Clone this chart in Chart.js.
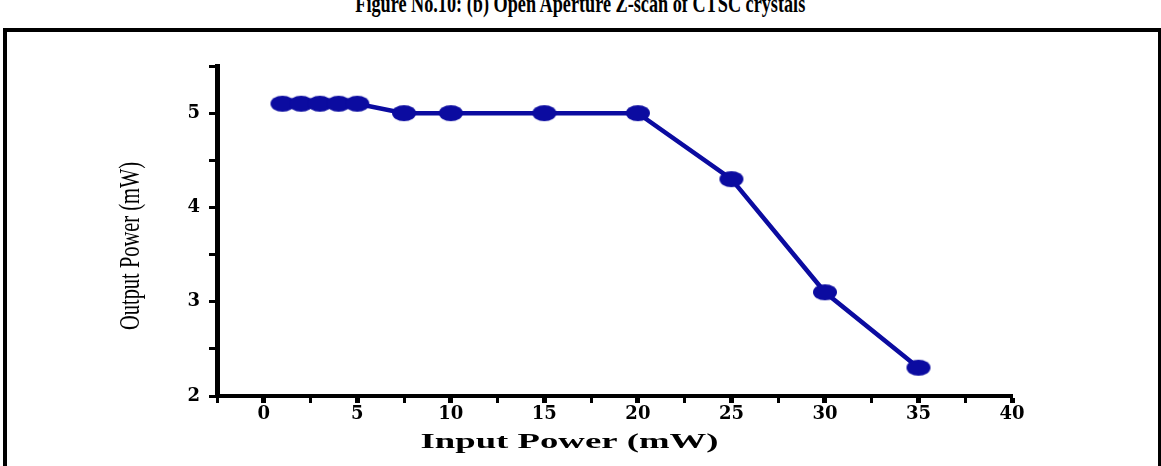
<!DOCTYPE html>
<html>
<head>
<meta charset="utf-8">
<script src="https://cdn.jsdelivr.net/npm/chart.js@4.4.1/dist/chart.umd.min.js"></script>
<style>
    html, body { margin: 0; padding: 0; background: #fff; }
    body { width: 1161px; height: 466px; position: relative; overflow: hidden; }
    #titulo {
        position: absolute; top: -11px; left: 0; width: 1161px; text-align: center;
        font: bold 26px/30px 'Liberation Serif', serif; color: #000; white-space: nowrap;
    }
    #titulo span { display: inline-block; transform-origin: center; }
    #moldura {
        position: absolute; left: 3px; top: 28px; width: 1151px; height: 500px;
        border: 4px solid #000; border-bottom: none;
    }
    #grafico { position: absolute; left: 0; top: 0; }
</style>
</head>
<body>
<div id="titulo"><span>Figure No.10: (b) Open Aperture Z-scan of CTSC crystals</span></div>
<div id="moldura"></div>
<canvas id="grafico" width="1161" height="466"></canvas>
<script>
const inputPower = [1, 2, 3, 4, 5, 7.5, 10, 15, 20, 25, 30, 35];
const outputPower = [5.1, 5.1, 5.1, 5.1, 5.1, 5.0, 5.0, 5.0, 5.0, 4.3, 3.1, 2.3];

const xLabels = [0, 5, 10, 15, 20, 25, 30, 35, 40];
const yLabels = [2, 3, 4, 5];

const tituloX = 'Input Power (mW)';
const tituloY = 'Output Power (mW)';

const azul = '#0b0ba0';

// encolhe o titulo da figura para a largura do original
const span = document.querySelector('#titulo span');
span.style.transform = `scaleX(${450 / span.getBoundingClientRect().width})`;

// marcador elíptico, como no original
const marcador = document.createElement('canvas');
marcador.width = 26;
marcador.height = 18;
const mctx = marcador.getContext('2d');
mctx.fillStyle = azul;
mctx.beginPath();
mctx.ellipse(13, 9, 12, 8, 0, 0, Math.PI * 2);
mctx.fill();

const fonteTicks = { family: "'DejaVu Serif', serif", size: 18, weight: 'bold' };

const titulosEixos = {
    id: 'titulosEixos',
    afterDraw(chart) {
        const { ctx, chartArea } = chart;
        ctx.save();
        ctx.fillStyle = '#000';
        ctx.textAlign = 'center';
        ctx.textBaseline = 'middle';

        // eixo x: texto largo, em negrito
        ctx.font = "bold 22px 'Liberation Serif', serif";
        const wx = ctx.measureText(tituloX).width;
        ctx.translate((chartArea.left + chartArea.right) / 2 - 45, chartArea.bottom + 46);
        ctx.scale(298 / wx, 1);
        ctx.fillText(tituloX, 0, 0);
        ctx.restore();

        // eixo y: texto condensado, girado
        ctx.save();
        ctx.fillStyle = '#000';
        ctx.textAlign = 'center';
        ctx.textBaseline = 'middle';
        ctx.font = "29px 'Liberation Serif', serif";
        const wy = ctx.measureText(tituloY).width;
        ctx.translate(131, (chartArea.top + chartArea.bottom) / 2 + 15);
        ctx.rotate(-Math.PI / 2);
        ctx.scale(168 / wy, 1);
        ctx.fillText(tituloY, 0, 0);
        ctx.restore();
    }
};

const ctx = document.getElementById('grafico').getContext('2d');

new Chart(ctx, {
    type: 'scatter',
    data: {
        datasets: [{
            data: inputPower.map((x, i) => ({ x, y: outputPower[i] })),
            showLine: true,
            borderColor: azul,
            backgroundColor: azul,
            borderWidth: 4.5,
            pointStyle: marcador,
            pointRadius: 9,
            tension: 0
        }]
    },
    options: {
        responsive: false,
        animation: false,
        events: [],
        layout: { padding: { top: 66, right: 149, left: 0, bottom: 0 } },
        plugins: {
            legend: { display: false },
            tooltip: { enabled: false }
        },
        scales: {
            x: {
                type: 'linear',
                min: -2.5,
                max: 40,
                afterFit: s => { s.height = 70; },
                border: { color: '#000', width: 4 },
                grid: {
                    drawOnChartArea: false,
                    tickLength: 7,
                    tickColor: '#000',
                    tickWidth: c => (c.tick && xLabels.includes(c.tick.value) ? 5 : 3)
                },
                ticks: {
                    stepSize: 2.5,
                    autoSkip: false,
                    maxRotation: 0,
                    padding: 1,
                    color: '#000',
                    font: fonteTicks,
                    callback: v => (xLabels.includes(v) ? String(v) : '')
                }
            },
            y: {
                min: 2,
                max: 5.5,
                afterFit: s => { s.width = 217; },
                border: { color: '#000', width: 5 },
                grid: {
                    drawOnChartArea: false,
                    tickLength: 8,
                    tickColor: '#000',
                    tickWidth: 3
                },
                ticks: {
                    stepSize: 0.5,
                    autoSkip: false,
                    padding: 9,
                    color: '#000',
                    font: fonteTicks,
                    callback: v => (yLabels.includes(v) ? String(v) : '')
                }
            }
        }
    },
    plugins: [titulosEixos]
});
</script>
</body>
</html>
